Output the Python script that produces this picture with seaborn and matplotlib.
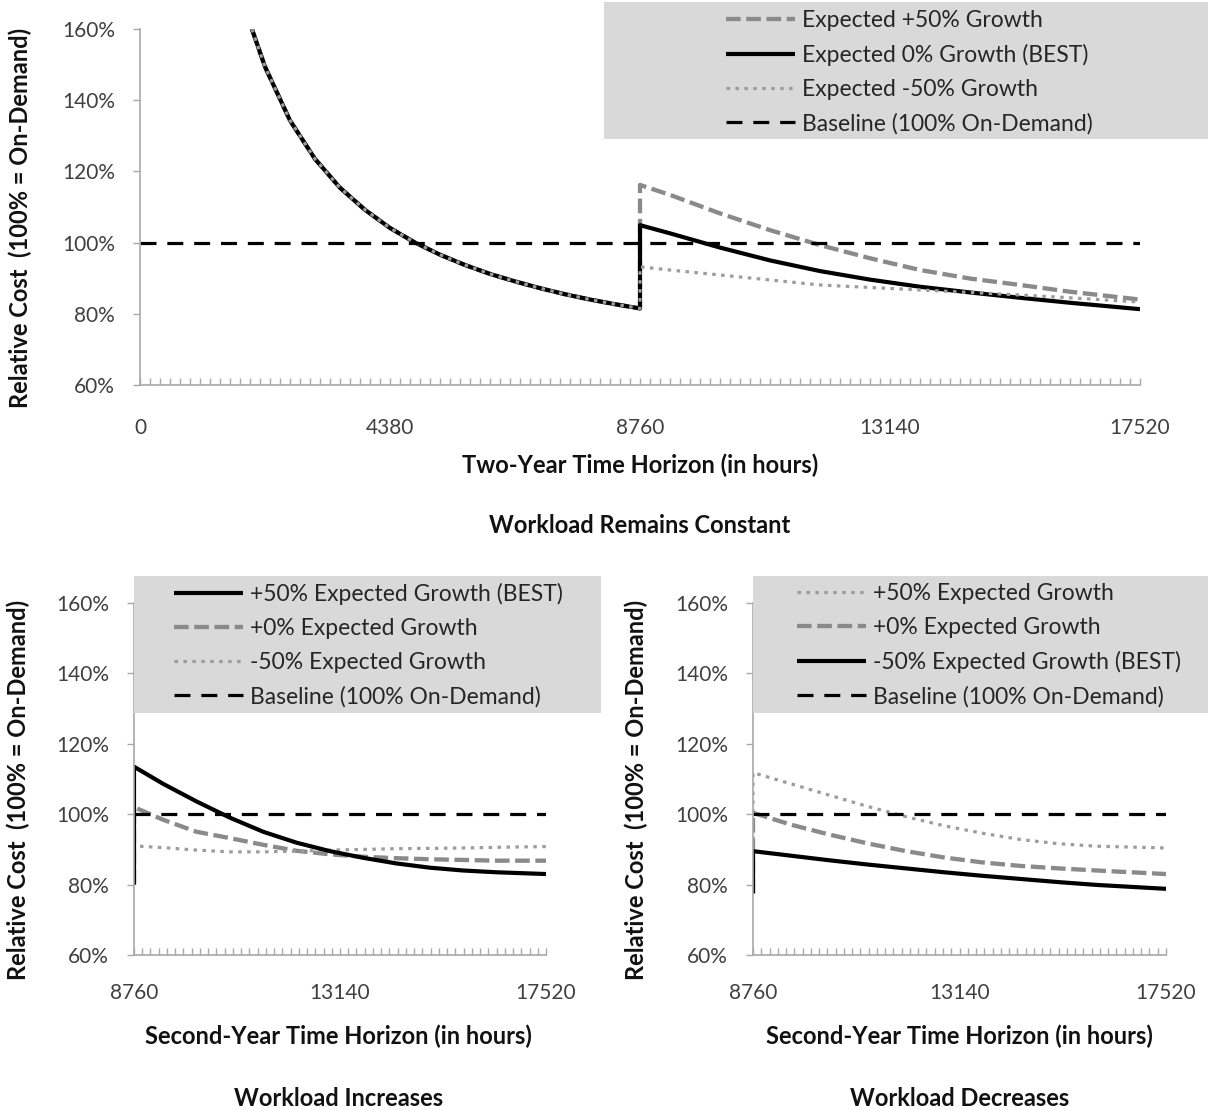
import matplotlib
matplotlib.use("Agg")
import matplotlib.pyplot as plt
from matplotlib.patches import Rectangle
from matplotlib.lines import Line2D
from matplotlib.ticker import MultipleLocator, FixedLocator, FuncFormatter
import seaborn as sns

# ---------------- data ----------------
# Top panel: workload remains constant (hours, relative cost in %)
year1_hours = [1960, 2190, 2628, 3066, 3504, 3942, 4380, 4818, 5256, 5694,
               6132, 6570, 7008, 7446, 7884, 8322, 8760]
year1_cost = [160.0, 149.4, 134.3, 123.5, 115.4, 109.2, 104.1, 100.0, 96.6, 93.7,
              91.2, 89.1, 87.2, 85.5, 84.0, 82.7, 81.5]

top_y2_hours = [8760, 9286, 10162, 11038, 11914, 12790, 13666, 14542, 15418, 16294, 17520]
top_plus50_cost = [116.2, 113.4, 108.2, 103.5, 99.3, 95.6, 92.3, 89.9, 88.1, 86.2, 84.0]
top_zero_cost = [104.9, 102.6, 98.6, 95.0, 92.0, 89.6, 87.6, 86.0, 84.5, 83.1, 81.3]
top_minus50_cost = [93.2, 92.3, 90.9, 89.5, 88.1, 87.4, 86.7, 86.0, 85.3, 84.5, 83.3]

baseline_hours_top = [0, 17520]
baseline_cost = [100, 100]

top_labels = ["Expected +50% Growth", "Expected 0% Growth (BEST)",
              "Expected -50% Growth", "Baseline (100% On-Demand)"]

# Bottom-left panel: workload increases (second year only)
inc_hours = [8760, 9383, 10093, 10801, 11509, 12219, 12928, 13636, 14346, 15054,
             15762, 16472, 17520]
inc_start = 80.0
inc_plus50 = [113.5, 108.6, 103.6, 99.0, 95.0, 91.9, 89.5, 87.6, 86.0, 84.8, 84.0, 83.5, 83.0]
inc_zero = [102.0, 98.4, 95.0, 93.2, 91.3, 89.6, 88.6, 87.9, 87.5, 87.2, 87.0, 86.8, 86.8]
inc_minus50 = [91.0, 90.5, 89.8, 89.3, 89.3, 89.5, 89.8, 90.0, 90.2, 90.3, 90.4, 90.6, 90.8]
inc_labels = ["+50% Expected Growth (BEST)", "+0% Expected Growth",
              "-50% Expected Growth", "Baseline (100% On-Demand)"]

# Bottom-right panel: workload decreases (second year only)
dec_hours = [8760, 9571, 10382, 11193, 12004, 12816, 13627, 14438, 15249, 16060, 17520]
dec_start = 77.5
dec_plus50 = [111.8, 108.6, 105.4, 102.2, 99.3, 96.7, 94.6, 92.8, 91.6, 90.9, 90.4]
dec_zero = [100.4, 97.0, 94.2, 91.7, 89.5, 87.7, 86.3, 85.3, 84.6, 84.0, 83.0]
dec_minus50 = [89.5, 88.2, 86.9, 85.7, 84.6, 83.5, 82.5, 81.6, 80.7, 79.9, 78.8]
dec_labels = ["+50% Expected Growth", "+0% Expected Growth",
              "-50% Expected Growth (BEST)", "Baseline (100% On-Demand)"]

baseline_hours_second = [8760, 17520]

y_ticks = [60, 80, 100, 120, 140, 160]
top_x_ticks = [0, 4380, 8760, 13140, 17520]
second_x_ticks = [8760, 13140, 17520]

# ---------------- styling ----------------
sns.set_theme(style="white")
plt.rcParams['font.family'] = ['Lato', 'DejaVu Sans']

W, H = 1208, 1110
fig = plt.figure(figsize=(W / 100, H / 100), dpi=100)

STY = {
    'gdash': dict(color='#8a8a8a', lw=3.1, dashes=(3.4, 1.3)),
    'solid': dict(color='#000000', lw=3.0, dashes=None),
    'gdot': dict(color='#9c9c9c', lw=2.3, dashes=(1.1, 1.7)),
    'bdash': dict(color='#000000', lw=2.3, dashes=(5.0, 3.4)),
}
TICK_COL = '#404040'
AX_COL = '#a8a8a8'
FS = 15
LFS = 16.5
TFS = 17


def rect(x0, y0, x1, y1):
    return [x0 / W, 1 - y1 / H, (x1 - x0) / W, (y1 - y0) / H]


def draw(ax, x, y, key, z=2):
    s = STY[key]
    sns.lineplot(x=x, y=y, ax=ax, color=s['color'], linewidth=s['lw'],
                 estimator=None, sort=False, legend=False, zorder=z)
    ln = ax.lines[-1]
    if s['dashes'] is not None:
        ln.set_dashes(s['dashes'])
    ln.set_solid_capstyle('butt')
    ln.set_dash_capstyle('butt')


def handle(key):
    s = STY[key]
    h = Line2D([0], [0], color=s['color'], lw=s['lw'])
    if s['dashes'] is not None:
        h.set_dashes(s['dashes'])
    h.set_dash_capstyle('butt')
    h.set_solid_capstyle('butt')
    return h


def style_axes(ax, xlim, xticks, xpad):
    ax.set_facecolor('none')
    ax.set_xlim(*xlim)
    ax.set_ylim(60, 160)
    ax.yaxis.set_major_locator(FixedLocator(y_ticks))
    ax.yaxis.set_major_formatter(FuncFormatter(lambda v, p: f"{v:.0f}%"))
    ax.xaxis.set_major_locator(FixedLocator(xticks))
    ax.xaxis.set_major_formatter(FuncFormatter(lambda v, p: f"{v:.0f}"))
    ax.xaxis.set_minor_locator(MultipleLocator(175.2))
    for side in ('top', 'right'):
        ax.spines[side].set_visible(False)
    for side in ('left', 'bottom'):
        ax.spines[side].set_color(AX_COL)
        ax.spines[side].set_linewidth(1.2)
    ax.tick_params(axis='y', which='major', direction='out', length=5, width=1,
                   color=AX_COL, pad=13, labelsize=FS, labelcolor=TICK_COL, left=True)
    ax.tick_params(axis='x', which='both', direction='in', length=5, width=1,
                   color=AX_COL, bottom=True)
    ax.tick_params(axis='x', which='major', pad=xpad, labelsize=FS, labelcolor=TICK_COL)
    ax.set_xlabel('')
    ax.set_ylabel('')
    ax.grid(False)


# ---------------- top panel ----------------
ax_top = fig.add_axes(rect(140, 29, 1140, 385))
draw(ax_top, year1_hours + top_y2_hours, year1_cost + top_plus50_cost, 'gdash')
draw(ax_top, year1_hours + top_y2_hours, year1_cost + top_zero_cost, 'solid')
draw(ax_top, year1_hours + top_y2_hours, year1_cost + top_minus50_cost, 'gdot')
draw(ax_top, baseline_hours_top, baseline_cost, 'bdash')
style_axes(ax_top, (0, 17520), top_x_ticks, 24)

# ---------------- bottom-left panel ----------------
ax_bl = fig.add_axes(rect(134, 603, 546, 955))
draw(ax_bl, [8760] + inc_hours, [inc_start] + inc_zero, 'gdash')
draw(ax_bl, [8760] + inc_hours, [inc_start] + inc_minus50, 'gdot')
draw(ax_bl, [8760] + inc_hours, [inc_start] + inc_plus50, 'solid')
draw(ax_bl, baseline_hours_second, baseline_cost, 'bdash')
style_axes(ax_bl, (8760, 17520), second_x_ticks, 20)

# ---------------- bottom-right panel ----------------
ax_br = fig.add_axes(rect(753, 603, 1166, 955))
draw(ax_br, [8760] + dec_hours, [dec_start] + dec_plus50, 'gdot')
draw(ax_br, [8760] + dec_hours, [dec_start] + dec_zero, 'gdash')
draw(ax_br, [8760] + dec_hours, [dec_start] + dec_minus50, 'solid')
draw(ax_br, baseline_hours_second, baseline_cost, 'bdash')
style_axes(ax_br, (8760, 17520), second_x_ticks, 20)

# ---------------- legend boxes ----------------
for (x0, y0, x1, y1) in [(604, 2, 1208, 139), (134, 576, 601, 713), (753, 576, 1208, 713)]:
    fig.patches.append(Rectangle((x0 / W, 1 - y1 / H), (x1 - x0) / W, (y1 - y0) / H,
                                 transform=fig.transFigure, facecolor='#d9d9d9',
                                 edgecolor='none', zorder=3))

leg_kw = dict(loc='upper left', frameon=False, borderpad=0, borderaxespad=0,
              handlelength=3.0, handletextpad=0.3, labelspacing=0.56,
              fontsize=LFS, labelcolor='#262626', bbox_transform=fig.transFigure)

l1 = fig.legend([handle('gdash'), handle('solid'), handle('gdot'), handle('bdash')],
                top_labels, bbox_to_anchor=(726 / W, 1 - 10 / H), **leg_kw)
l2 = fig.legend([handle('solid'), handle('gdash'), handle('gdot'), handle('bdash')],
                inc_labels, bbox_to_anchor=(174 / W, 1 - 583 / H), **leg_kw)
l3 = fig.legend([handle('gdot'), handle('gdash'), handle('solid'), handle('bdash')],
                dec_labels, bbox_to_anchor=(797 / W, 1 - 583 / H), **leg_kw)
for lg in (l1, l2, l3):
    lg.set_zorder(5)

# ---------------- titles ----------------
def title(x, y, s):
    fig.text(x / W, 1 - y / H, s, ha='center', va='center',
             fontsize=TFS, fontweight='bold', color='#111111')

title(640, 465, 'Two-Year Time Horizon (in hours)')
title(640, 525, 'Workload Remains Constant')
title(338, 1036, 'Second-Year Time Horizon (in hours)')
title(339, 1098, 'Workload Increases')
title(959, 1036, 'Second-Year Time Horizon (in hours)')
title(960, 1098, 'Workload Decreases')

ylab = 'Relative Cost  (100% = On-Demand)'
for (x, y) in [(20, 218), (18, 790), (636, 790)]:
    fig.text(x / W, 1 - y / H, ylab, rotation=90, ha='center', va='center',
             fontsize=TFS, fontweight='bold', color='#111111')

fig.savefig('out.png', dpi=100, facecolor='white')
